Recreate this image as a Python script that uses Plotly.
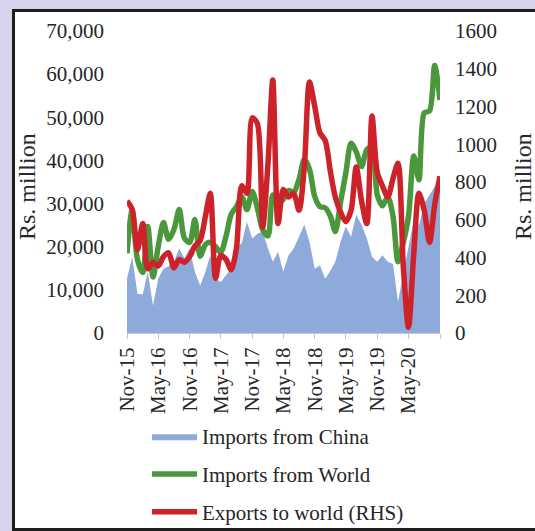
import pandas as pd
import plotly.graph_objects as go

months = pd.date_range("2015-11-01", periods=61, freq="MS")

imports_china = [12600, 17700, 9100, 8900, 14200, 6400, 12600, 14900, 15500, 16500,
                 19600, 17300, 19600, 14200, 11000, 14200, 18000, 12600, 11800, 13500,
                 14900, 20000, 20800, 25800, 21900, 23000, 23500, 19600, 16500, 18800,
                 14200, 18000, 19600, 22300, 25100, 21200, 14900, 15700, 12600, 14500,
                 16500, 21200, 24700, 22300, 27400, 25100, 21900, 17700, 16500, 18000,
                 16500, 16000, 7200, 14000, 20000, 26000, 25000, 30000, 32000, 34000,
                 36000]

imports_world = [18500, 28500, 17000, 14000, 24700, 13000, 20000, 25600, 21700, 24000,
                 28600, 22000, 21000, 26300, 17800, 20500, 21000, 20000, 18700, 22400,
                 27500, 29300, 31600, 28600, 32800, 29000, 24000, 22500, 32000, 30000,
                 31000, 33000, 32600, 35600, 40200, 38000, 31600, 29300, 29000, 27000,
                 23500, 30500, 37000, 44000, 42000, 38600, 42500, 43000, 32000, 29500,
                 31600, 27000, 16500, 21000, 27000, 41000, 35500, 51000, 51500, 62000,
                 54000]

exports_world = [700, 655, 440, 580, 340, 375, 355, 405, 425, 345,
                 390, 375, 405, 460, 490, 620, 740, 290, 410, 390,
                 335, 450, 780, 740, 1140, 1110, 560, 900, 1340, 580,
                 760, 720, 740, 650, 880, 1330, 1200, 1060, 1020, 850,
                 720, 640, 590, 650, 880, 700, 580, 1150, 850, 780,
                 720, 820, 900, 350, 30, 420, 740, 650, 480, 680,
                 830]

tick_dates = pd.date_range("2015-11-01", "2020-11-01", freq="6MS")
tick_labels = ["Nov-15", "May-16", "Nov-16", "May-17", "Nov-17", "May-18",
               "Nov-18", "May-19", "Nov-19", "May-20", ""]

left_ticks = list(range(0, 70001, 10000))
right_ticks = list(range(0, 1601, 200))

FONT = "Liberation Serif, Times New Roman, serif"
TXT = "#262626"

W, H = 535, 531
L, R, T, B = 127, 95, 31, 198
pw, ph = W - L - R, H - T - B


def px_x(x):
    return (x - L) / pw


def px_y(y):
    return (H - B - y) / ph


fig = go.Figure()

fig.add_trace(go.Scatter(
    x=months, y=imports_china, name="Imports from China",
    mode="lines", line=dict(width=0, color="#8eaadb"),
    fill="tozeroy", fillcolor="#8eaadb", legendgroup="a",
))
fig.add_trace(go.Scatter(
    x=months, y=imports_world, name="Imports from World",
    mode="lines", line=dict(width=5.5, color="#4a983b", shape="spline", smoothing=0.8),
    legendgroup="b",
))
fig.add_trace(go.Scatter(
    x=months, y=exports_world, name="Exports to world (RHS)", yaxis="y2",
    mode="lines", line=dict(width=5.5, color="#cd2229", shape="spline", smoothing=0.8),
    legendgroup="c",
))

fig.update_layout(
    width=W, height=H,
    margin=dict(l=L, r=R, t=T, b=B, pad=0, autoexpand=False),
    paper_bgcolor="#d6d3ea",
    plot_bgcolor="rgba(0,0,0,0)",
    font=dict(family=FONT, size=21, color=TXT),
    showlegend=True,
    legend=dict(
        orientation="v", x=px_x(147), y=px_y(416), xanchor="left", yanchor="top",
        bgcolor="rgba(0,0,0,0)", font=dict(family=FONT, size=21, color=TXT),
        tracegroupgap=7.5, itemwidth=45,
    ),
    xaxis=dict(
        type="date", range=[months[0], months[-1]],
        tickvals=list(tick_dates), ticktext=tick_labels, tickangle=-90,
        showgrid=False, zeroline=False,
        showline=True, linecolor="#c8c8c8", linewidth=1,
        ticks="outside", ticklen=5, tickcolor="#c8c8c8",
        tickfont=dict(family=FONT, size=21, color=TXT),
    ),
    yaxis=dict(
        range=[0, 70000], tickvals=left_ticks, tickformat=",d",
        showgrid=False, zeroline=False, showline=False, ticks="",
        ticklabelstandoff=22,
        tickfont=dict(family=FONT, size=21, color=TXT),
    ),
    yaxis2=dict(
        range=[0, 1600], tickvals=right_ticks, overlaying="y", side="right",
        showgrid=False, zeroline=False, showline=False, ticks="",
        ticklabelstandoff=14,
        tickfont=dict(family=FONT, size=21, color=TXT),
    ),
    shapes=[dict(
        type="rect", xref="paper", yref="paper", layer="below",
        x0=px_x(13.5), x1=px_x(545), y0=px_y(529.5), y1=px_y(10.5),
        fillcolor="white", line=dict(color="#1e1e1e", width=3),
    )],
    annotations=[
        dict(text="Rs. million", xref="paper", yref="paper",
             x=px_x(27), y=px_y(187), xanchor="center", yanchor="middle",
             textangle=-90, showarrow=False,
             font=dict(family=FONT, size=24, color=TXT)),
        dict(text="Rs. million", xref="paper", yref="paper",
             x=px_x(523), y=px_y(187), xanchor="center", yanchor="middle",
             textangle=-90, showarrow=False,
             font=dict(family=FONT, size=24, color=TXT)),
    ],
)

fig.write_html(
    "out.html",
    config={"displayModeBar": False},
    post_script="document.body.style.margin='0';document.body.style.overflow='hidden';",
)
